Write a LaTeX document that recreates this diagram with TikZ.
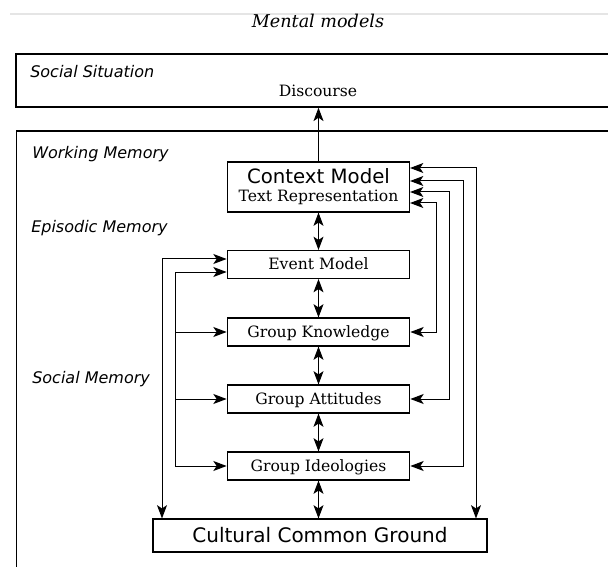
\documentclass[tikz,border=0pt]{standalone}
\usepackage{fontspec}
\setmainfont{DejaVu Serif}[ItalicFont={DejaVu Serif Italic}]
\setsansfont{DejaVu Sans}[ItalicFont={DejaVu Sans Oblique}]
\usetikzlibrary{arrows.meta}
\begin{document}
\begin{tikzpicture}[x=0.75pt,y=-0.75pt,
  tip/.tip={Stealth[length=10pt,width=7.5pt,inset=2.5pt]},
  frame/.style={draw,line width=1.1pt,inner sep=0pt},
  midbox/.style={draw,line width=0.8pt,minimum width=137pt,minimum height=21pt,inner sep=0pt,
    text height=8.5pt,text depth=1pt,font=\fontsize{11.7}{13}\selectfont},
  conn/.style={line width=0.75pt},
  lbl/.style={anchor=base west,inner sep=0pt,font=\sffamily\itshape\fontsize{12}{14}\selectfont}]
\useasboundingbox (0,0) rectangle (608,567);
\clip (0,0) rectangle (608,567);
\draw[gray!20,line width=1.2pt] (10,14) -- (608,14);
\node[anchor=base,inner sep=0pt,font=\itshape\fontsize{13.2}{15}\selectfont] (title) at (318,28) {Mental models};
% frames
\node[frame,minimum width=453pt,minimum height=39.75pt] (ssbox) at (318,80.5) {};
\node[frame,minimum width=453pt,minimum height=352pt] (mem) at (318.5,365.5) {};
\node[lbl] (sslbl) at (30,78) {Social Situation};
\node[anchor=base,inner sep=0pt,font=\fontsize{11.7}{13}\selectfont] (disc) at (318,97) {Discourse};
\node[lbl] (wm) at (32,159) {Working Memory};
\node[lbl] (em) at (31,233) {Episodic Memory};
\node[lbl] (sm) at (32,383) {Social Memory};
% boxes
\node[draw,line width=0.8pt,minimum width=136.5pt,minimum height=37.5pt,inner sep=0pt] (cm) at (318.5,187) {};
\node[anchor=base,inner sep=0pt,font=\sffamily\fontsize{14.8}{16}\selectfont] (cmt) at (318.5,184) {Context Model};
\node[anchor=base,inner sep=0pt,font=\fontsize{11.7}{13}\selectfont] (trt) at (318.5,202) {Text Representation};
\node[midbox] (ev) at (318.5,264.5) {Event Model};
\node[midbox] (gk) at (318.5,332) {Group Knowledge};
\node[midbox] (ga) at (318.5,399) {Group Attitudes};
\node[midbox] (gi) at (318.5,466) {Group Ideologies};
\node[draw,line width=0.8pt,minimum width=250.5pt,minimum height=24.75pt,inner sep=0pt,
  text height=11pt,text depth=0.5pt,font=\sffamily\fontsize{15}{17}\selectfont] (ccg) at (320,535.5) {Cultural Common Ground};
% vertical connectors
\draw[conn,-tip] (cm.north) -- (cm.north |- ssbox.south);
\draw[conn,tip-tip] (cm.south) -- (ev.north);
\draw[conn,tip-tip] (ev.south) -- (gk.north);
\draw[conn,tip-tip] (gk.south) -- (ga.north);
\draw[conn,tip-tip] (ga.south) -- (gi.north);
\draw[conn,tip-tip] (gi.south) -- (gi.south |- ccg.north);
% right side
\draw[conn,tip-tip] (cm.east |- 0,203) -- ++(26,0) |- (gk.east);
\draw[conn,tip-tip] (cm.east |- 0,192) -- ++(39.5,0) |- (ga.east);
\draw[conn,tip-tip] (cm.east |- 0,181) -- ++(53.5,0) |- (gi.east);
\draw[conn,tip-tip] (cm.east |- 0,168) -| (ccg.north -| 476,0);
% left side
\draw[conn,tip-tip] (ev.west |- 0,259) -| (ccg.north -| 162,0);
\draw[conn,tip-tip] (gi.west) -| (175,272) -- (ev.west |- 0,272);
\draw[conn,-tip] (gk.west -| 175,0) -- (gk.west);
\draw[conn,-tip] (ga.west -| 175,0) -- (ga.west);
\end{tikzpicture}
\end{document}
